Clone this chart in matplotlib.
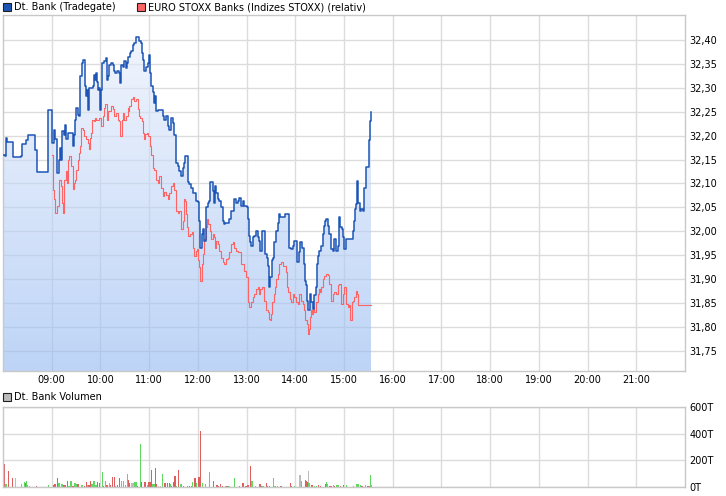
import numpy as np
import matplotlib
matplotlib.use("Agg")
import matplotlib.pyplot as plt
from matplotlib.patches import PathPatch, Rectangle
from matplotlib.ticker import FuncFormatter

# minutes after 08:00 and price (steps)
bank_t = [0, 2.5, 3.7, 4.9, 11.9, 22.2, 23, 28.3, 30.4, 39.8, 41.9, 55.0, 60.4, 63.2,
          64.5, 66.5, 69.4, 70.6, 71.5, 72.7, 74.7, 76.8, 78.0, 79.7, 83.8, 85.8, 87.9,
          88.7, 90.3, 92.0, 94.0, 94.9, 96.9, 99.0, 101.0, 102.3, 103.5, 105.1, 106.4,
          110.5, 111.7, 113.3, 114.6, 115.8, 117.5, 118.7, 119.9, 120.7, 122.0, 124.8,
          126.9, 128.1, 129.8, 131.0, 133.1, 135.1, 136.3, 138.0, 140.5, 142.5, 143.7,
          145.4, 147.4, 149.5, 151.5, 152.8, 154.4, 156.1, 157.7, 159.8, 161.8, 163.9,
          168.0, 170.0, 171.3, 172.9, 174.1, 176.2, 178.2, 179.5, 181.1, 182.3, 184.4,
          185.6, 187.3, 188.5, 190.6, 194.7, 196.7, 198.8, 200.8, 202.9, 204.9, 207.0,
          209.0, 211.1, 213.1, 215.2, 217.2, 219.3, 221.4, 222.6, 224.2, 227.5, 229.6,
          231.6, 233.7, 237.8, 239.8, 241.9, 243.1, 244.8, 246.0, 248.1, 250.1, 252.2,
          254.2, 255.4, 257.5, 259.1, 260.4, 261.6, 262.8, 264.5, 266.5, 268.6, 270.6,
          271.9, 273.9, 278.0, 280.9, 285.0, 287.1, 289.1, 291.2, 293.2, 295.3, 297.3,
          300.2, 301.4, 302.7, 304.3, 305.5, 307.6, 309.7, 311.7, 313.8, 315.8, 317.0,
          318.7, 321.2, 322.8, 324.8, 326.9, 328.1, 329.4, 331.0, 332.2, 334.3, 336.4,
          338.4, 339.6, 341.3, 347.4, 352.8, 354.8, 356.9, 358.9, 361.0, 362.2, 364.3,
          366.3, 368.0, 370.4, 372.1, 373.3, 374.5, 376.2, 377.8, 379.5, 381.5, 383.6,
          385.2, 386.9, 388.5, 389.7, 391.8, 393.8, 395.1, 396.7, 398.4, 400.0, 402.1,
          404.1, 406.2, 408.2, 410.3, 412.3, 413.6, 415.6, 417.3, 418.5, 420.5, 422.6,
          428.8, 430.8, 432.0, 433.7, 434.9, 436.2, 437.8, 439.4, 441.1, 443.1, 445.2,
          447.2, 450.5, 452.5, 453.4]
bank_p = [32.160, 32.157, 32.195, 32.187, 32.155, 32.158, 32.183, 32.190, 32.201, 32.170,
          32.124, 32.254, 32.185, 32.212, 32.192, 32.122, 32.150, 32.174, 32.150, 32.209,
          32.202, 32.223, 32.192, 32.206, 32.206, 32.178, 32.202, 32.233, 32.258, 32.244,
          32.240, 32.324, 32.351, 32.358, 32.303, 32.282, 32.296, 32.254, 32.299, 32.303,
          32.327, 32.317, 32.331, 32.313, 32.296, 32.299, 32.254, 32.296, 32.351, 32.355,
          32.362, 32.317, 32.324, 32.348, 32.351, 32.348, 32.334, 32.331, 32.334, 32.331,
          32.310, 32.348, 32.344, 32.355, 32.341, 32.351, 32.365, 32.372, 32.376, 32.390,
          32.394, 32.407, 32.397, 32.394, 32.372, 32.358, 32.334, 32.344, 32.351, 32.369,
          32.331, 32.303, 32.292, 32.268, 32.282, 32.251, 32.254, 32.253, 32.240, 32.233,
          32.240, 32.219, 32.212, 32.237, 32.226, 32.202, 32.143, 32.136, 32.126, 32.115,
          32.133, 32.143, 32.158, 32.102, 32.098, 32.091, 32.081, 32.063, 32.062, 32.022,
          31.966, 31.994, 32.004, 31.980, 32.050, 32.060, 32.063, 32.102, 32.102, 32.084,
          32.060, 32.095, 32.081, 32.067, 32.063, 32.051, 32.022, 32.015, 32.018, 32.025,
          32.043, 32.067, 32.060, 32.063, 32.070, 32.053, 32.063, 32.053, 32.050, 32.025,
          31.991, 31.977, 31.970, 31.987, 31.991, 32.001, 31.987, 31.980, 31.959, 32.001,
          32.001, 31.952, 31.945, 31.928, 31.883, 31.904, 31.939, 31.945, 31.977, 32.001,
          32.018, 32.036, 32.029, 32.036, 31.966, 31.963, 31.970, 31.980, 31.979, 31.935,
          31.956, 31.977, 31.966, 31.932, 31.897, 31.887, 31.855, 31.835, 31.869, 31.852,
          31.838, 31.866, 31.883, 31.932, 31.949, 31.959, 31.970, 31.994, 32.011, 32.022,
          32.025, 32.011, 31.994, 31.963, 31.959, 31.984, 31.959, 31.970, 32.029, 32.008,
          32.004, 31.987, 31.963, 31.984, 31.984, 32.001, 32.022, 32.046, 32.056, 32.105,
          32.060, 32.043, 32.046, 32.043, 32.090, 32.135, 32.190, 32.230, 32.250]

stoxx_t = [60.4, 61.2, 63.2, 64.5, 66.5, 69.4, 71.5, 72.7, 73.9, 75.6, 77.6, 78.8, 80.5,
           81.7, 83.8, 85.8, 87.1, 88.7, 90.3, 92.0, 93.6, 94.9, 96.1, 98.2, 100.2, 102.3,
           104.3, 105.5, 106.8, 108.4, 109.6, 111.7, 113.3, 115.0, 118.7, 120.7, 122.8,
           124.8, 126.1, 128.1, 129.8, 133.1, 135.1, 137.2, 139.2, 141.3, 143.3, 144.6,
           146.6, 148.3, 149.5, 151.5, 153.6, 154.8, 155.6, 157.7, 159.8, 161.8, 163.9,
           165.9, 167.2, 169.2, 170.9, 172.1, 173.3, 175.0, 177.0, 179.1, 180.7, 182.3,
           184.4, 186.4, 188.5, 190.6, 192.6, 194.7, 196.7, 198.8, 200.8, 202.9, 204.9,
           207.0, 209.0, 211.1, 213.1, 215.2, 217.2, 219.3, 221.4, 222.6, 224.2, 225.5,
           226.7, 228.3, 230.4, 232.4, 234.1, 235.7, 237.8, 239.0, 240.7, 241.9, 243.1,
           244.8, 246.4, 248.1, 250.1, 251.3, 253.0, 254.6, 256.3, 258.3, 259.5, 261.2,
           262.8, 264.5, 266.5, 268.6, 270.6, 272.7, 274.7, 276.8, 278.9, 280.9, 283.0,
           285.0, 287.1, 289.1, 293.2, 297.3, 299.4, 301.4, 303.5, 305.5, 307.6, 309.7,
           311.7, 313.8, 315.0, 316.6, 318.7, 322.0, 324.0, 326.1, 327.3, 328.5, 330.2,
           331.4, 333.5, 335.1, 336.8, 338.4, 340.5, 342.5, 344.6, 348.7, 349.9, 351.5,
           353.2, 354.8, 356.9, 358.9, 361.0, 363.0, 365.1, 367.2, 369.2, 370.4, 372.1,
           374.1, 375.4, 376.6, 378.2, 379.5, 380.7, 382.4, 383.6, 385.6, 387.7, 388.9,
           390.6, 391.8, 393.8, 395.9, 398.0, 400.0, 402.1, 404.1, 406.2, 408.2, 410.3,
           412.3, 414.4, 416.4, 418.5, 420.5, 422.6, 424.7, 426.7, 427.9, 429.6, 431.2,
           432.9, 434.9, 436.2, 437.8, 453.4]
stoxx_p = [32.160, 32.087, 32.067, 32.039, 32.053, 32.108, 32.094, 32.060, 32.039, 32.108,
           32.126, 32.101, 32.150, 32.157, 32.136, 32.088, 32.101, 32.108, 32.129, 32.150,
           32.164, 32.178, 32.216, 32.212, 32.199, 32.192, 32.185, 32.171, 32.195, 32.206,
           32.233, 32.230, 32.237, 32.233, 32.237, 32.219, 32.240, 32.258, 32.265, 32.233,
           32.251, 32.262, 32.255, 32.240, 32.247, 32.233, 32.230, 32.199, 32.233, 32.247,
           32.233, 32.240, 32.258, 32.251, 32.262, 32.276, 32.280, 32.273, 32.276, 32.255,
           32.240, 32.237, 32.230, 32.206, 32.192, 32.203, 32.206, 32.199, 32.178, 32.160,
           32.133, 32.129, 32.108, 32.101, 32.115, 32.090, 32.073, 32.083, 32.076, 32.067,
           32.080, 32.094, 32.101, 32.087, 32.042, 32.039, 32.042, 32.004, 32.022, 32.067,
           32.063, 32.036, 32.008, 31.991, 31.994, 31.998, 31.966, 31.949, 31.959, 31.963,
           31.939, 31.925, 31.897, 31.932, 31.952, 31.984, 32.008, 32.025, 32.015, 32.001,
           31.984, 31.994, 31.987, 31.966, 31.980, 31.973, 31.959, 31.945, 31.935, 31.932,
           31.942, 31.945, 31.956, 31.973, 31.977, 31.966, 31.959, 31.956, 31.932, 31.918,
           31.904, 31.852, 31.841, 31.852, 31.862, 31.869, 31.880, 31.883, 31.869, 31.880,
           31.883, 31.855, 31.835, 31.831, 31.817, 31.814, 31.828, 31.852, 31.869, 31.883,
           31.900, 31.911, 31.932, 31.935, 31.928, 31.914, 31.883, 31.873, 31.859, 31.852,
           31.869, 31.862, 31.852, 31.848, 31.869, 31.855, 31.848, 31.835, 31.814, 31.807,
           31.786, 31.796, 31.821, 31.835, 31.828, 31.841, 31.831, 31.852, 31.869, 31.880,
           31.873, 31.883, 31.900, 31.907, 31.911, 31.909, 31.890, 31.855, 31.869, 31.873,
           31.869, 31.887, 31.890, 31.848, 31.869, 31.883, 31.848, 31.841, 31.845, 31.814,
           31.852, 31.855, 31.862, 31.876, 31.869, 31.845, 31.845]

# volume: minutes after 08:00, thousands of shares, tick direction
vol_t = [1.2, 2.1, 3.7, 6.6, 11.5, 15.2, 23.0, 26.3, 27.5, 28.7, 30.0, 32.4, 41.1, 55.9,
         62.0, 63.2, 64.5, 66.9, 69.0, 72.7, 74.3, 76.4, 79.3, 81.3, 83.0, 84.2, 85.4,
         87.1, 88.7, 90.3, 92.4, 96.5, 98.2, 100.2, 102.7, 104.3, 106.0, 108.0, 109.7,
         112.1, 114.6, 116.2, 119.1, 122.4, 124.0, 126.1, 128.1, 131.0, 132.2, 134.7,
         137.2, 138.4, 141.3, 143.3, 146.2, 148.3, 150.7, 153.2, 154.4, 156.1, 158.5,
         160.2, 161.8, 163.9, 165.5, 169.2, 170.8, 174.1, 175.4, 178.2, 179.9, 181.1,
         182.8, 184.8, 186.4, 187.7, 189.3, 191.8, 193.8, 196.3, 198.8, 200.4, 202.9,
         204.9, 206.2, 207.8, 209.9, 211.9, 213.6, 216.0, 219.3, 222.6, 227.5, 229.6,
         232.4, 233.7, 236.6, 238.2, 241.5, 243.1, 245.6, 249.7, 254.2, 259.1, 263.7,
         265.7, 267.8, 270.2, 273.9, 276.0, 278.4, 285.0, 291.6, 295.7, 299.4, 301.4,
         302.7, 304.7, 306.8, 310.9, 316.6, 317.9, 320.3, 324.4, 326.1, 328.1, 333.1,
         335.1, 338.4, 342.5, 354.0, 355.2, 358.9, 365.9, 367.6, 372.1, 373.3, 374.5,
         375.8, 377.0, 379.5, 381.1, 383.6, 386.0, 388.5, 390.6, 397.1, 398.4, 399.6,
         402.1, 404.1, 407.4, 408.6, 411.5, 413.6, 415.6, 419.3, 422.6, 431.6, 436.1,
         438.2, 440.2, 442.3, 446.4, 448.5, 450.9, 452.6, 453.8]
vol_k = [175, 130, 25, 117, 67, 67, 25, 37, 30, 47, 15, 10, 10, 17,
         15, 22, 25, 67, 30, 25, 12, 17, 42, 10, 47, 47, 10,
         10, 30, 22, 25, 17, 12, 10, 40, 17, 17, 42, 22,
         47, 15, 40, 32, 115, 10, 47, 17, 32, 12, 77,
         77, 10, 12, 67, 47, 47, 15, 100, 55, 30, 30,
         30, 40, 35, 10, 325, 35, 40, 40, 17, 37, 40,
         130, 20, 25, 145, 20, 10, 10, 100, 32, 32, 32,
         32, 25, 10, 40, 85, 10, 130, 25, 10, 10, 10,
         10, 37, 67, 30, 75, 422, 30, 25, 115, 47, 17,
         10, 22, 10, 10, 10, 10, 70, 10, 32, 10, 17,
         17, 160, 47, 10, 25, 10, 10, 32, 10, 10, 70,
         10, 10, 10, 32, 10, 10, 92, 42, 55, 47, 40,
         117, 30, 17, 17, 10, 10, 17, 10, 25, 40, 22,
         10, 10, 17, 10, 17, 17, 10, 17, 17, 10, 25,
         25, 17, 10, 17, 10, 10, 92, 17]
vol_dir = ["d", "d", "u", "d", "d", "n", "u", "u", "d", "u", "u", "n", "d", "u",
           "d", "d", "d", "d", "u", "u", "d", "d", "d", "u", "u", "u", "d",
           "d", "u", "u", "d", "u", "u", "d", "d", "u", "d", "d", "u",
           "u", "u", "d", "d", "u", "d", "u", "d", "u", "d", "d",
           "d", "u", "d", "d", "u", "u", "u", "u", "d", "d", "n",
           "n", "u", "u", "d", "u", "d", "d", "d", "u", "d", "d",
           "d", "u", "u", "d", "d", "n", "n", "u", "d", "d", "d",
           "d", "u", "d", "d", "d", "u", "d", "u", "d", "d", "d",
           "d", "u", "d", "u", "d", "d", "u", "u", "u", "d", "d",
           "d", "d", "d", "u", "d", "u", "u", "d", "d", "d", "d",
           "d", "d", "u", "u", "d", "d", "u", "d", "d", "d", "u",
           "u", "u", "d", "d", "d", "u", "n", "u", "d", "d", "d",
           "n", "u", "d", "d", "u", "u", "d", "d", "d", "u", "u",
           "d", "d", "u", "d", "u", "u", "d", "d", "u", "u", "u",
           "u", "u", "d", "u", "d", "d", "u", "u"]

hour_labels = ["09:00", "10:00", "11:00", "12:00", "13:00", "14:00", "15:00",
               "16:00", "17:00", "18:00", "19:00", "20:00", "21:00"]
price_ticks = [31.75, 31.80, 31.85, 31.90, 31.95, 32.00, 32.05, 32.10, 32.15,
               32.20, 32.25, 32.30, 32.35, 32.40]
vol_ticks = [0, 200, 400, 600]

BLUE = "#1d55b6"
RED = "#ff6464"
GRID = "#dcdcdc"
FRAME = "#c8c8c8"
FS = 7.0

fig = plt.figure(figsize=(7.26, 4.96), dpi=100)
ax = fig.add_axes([3 / 726, 1 - 371 / 496, 682 / 726, 356 / 496])
axv = fig.add_axes([3 / 726, 1 - 487 / 496, 682 / 726, 80 / 496])

ylo, yhi = 31.708, 32.452
hour_pos = [60 * (i + 1) for i in range(len(hour_labels))]

for a in (ax, axv):
    a.set_xlim(0, 840)
    a.set_xticks(hour_pos)
    for s in a.spines.values():
        s.set_color(FRAME)
        s.set_linewidth(1.0)
    a.grid(True, color=GRID, linewidth=1.0, zorder=0)
    a.set_axisbelow(True)
    a.yaxis.tick_right()
    a.tick_params(length=0, labelsize=FS, colors="black", pad=3)

# gradient fill under the Dt. Bank line
bt = np.array(bank_t)
bp = np.array(bank_p)
poly = ax.fill_between(bt, bp, ylo, step="post", facecolor="none", edgecolor="none")
clip = PathPatch(poly.get_paths()[0], transform=ax.transData,
                 facecolor="none", edgecolor="none")
ax.add_patch(clip)
g = np.linspace(0, 1, 256)[:, None]
top_c = np.array([237, 242, 253]) / 255
bot_c = np.array([150, 186, 242]) / 255
rgba = np.ones((256, 1, 4))
rgba[:, :, :3] = top_c + (bot_c - top_c) * g[:, :, None]
rgba[:, :, 3] = 0.62
im = ax.imshow(rgba, extent=[0, bt[-1], ylo, yhi], aspect="auto",
               origin="upper", zorder=1, interpolation="bilinear")
im.set_clip_path(clip)

ax.plot(stoxx_t, stoxx_p, drawstyle="steps-post", color=RED, lw=0.8, zorder=3)
ax.plot(bank_t, bank_p, drawstyle="steps-post", color=BLUE, lw=1.1, zorder=4)

ax.set_ylim(ylo, yhi)
ax.set_yticks(price_ticks)
ax.yaxis.set_major_formatter(FuncFormatter(lambda v, p: f"{v:.2f}".replace(".", ",")))
ax.set_xticklabels(hour_labels)

# volume bars
dir_colors = {"u": "#5ed85e", "d": "#de5e5e", "n": "#bcbcbc"}
axv.bar(vol_t, vol_k, width=1.5, color=[dir_colors[d] for d in vol_dir],
        linewidth=0, zorder=2)
axv.set_ylim(0, 600)
axv.set_yticks(vol_ticks)
axv.set_yticklabels([f"{v}T" for v in vol_ticks])
axv.set_xticklabels([])

# legends
def legend_box(x, y, color, label):
    fig.patches.append(Rectangle((x / 726, 1 - (y + 8) / 496), 8 / 726, 8 / 496,
                                 transform=fig.transFigure, facecolor=color,
                                 edgecolor="#202020", linewidth=0.8))
    fig.text((x + 11) / 726, 1 - (y + 4.5) / 496, label, fontsize=FS,
             va="center", ha="left", color="black")

legend_box(3, 3, BLUE, "Dt. Bank (Tradegate)")
legend_box(137, 3, RED, "EURO STOXX Banks (Indizes STOXX) (relativ)")
legend_box(3, 393, "#bcbcbc", "Dt. Bank Volumen")

fig.savefig("out.png", dpi=100)
